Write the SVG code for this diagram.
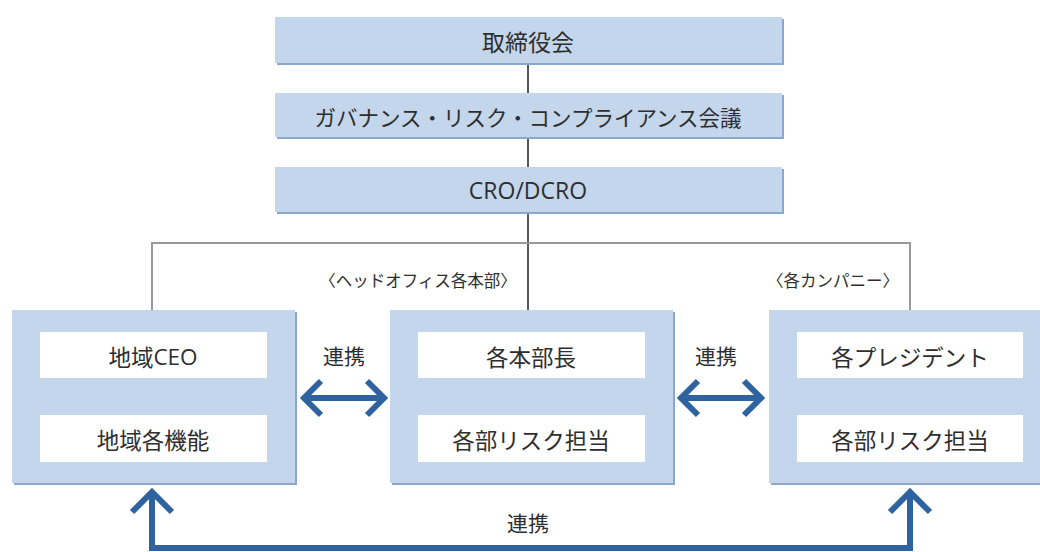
<svg xmlns="http://www.w3.org/2000/svg" width="1040" height="552" viewBox="0 0 1040 552">
<defs>
<style>
text{font-family:"Noto Sans CJK JP","Noto Sans",sans-serif;fill:#2e2e2e;text-anchor:middle;dominant-baseline:central;font-weight:400}
.lat{font-family:"Open Sans","Noto Sans",sans-serif}
.top{fill:#c4d6eb}
.sh{fill:#8aa8cc}
.big{fill:#c4d6eb}
.in{fill:#ffffff}
.t1{font-size:23px}
.t3{font-size:21.5px}
.t2{font-size:22.5px}
.sm{font-size:16.5px}
.lk{font-size:21px}
.blk{stroke:#222;stroke-width:1.5;fill:none}
.gry{stroke:#999;stroke-width:2;fill:none}
.arr{stroke:#2f63a0;stroke-width:6;fill:none;stroke-linejoin:miter}
</style>
</defs>
<rect width="1040" height="552" fill="#ffffff"/>
<g id="connectors">
<line class="blk" x1="528" y1="63" x2="528" y2="93"/>
<line class="blk" x1="528" y1="137" x2="528" y2="167"/>
<line class="blk" x1="528" y1="212" x2="528" y2="310"/>
<polyline class="gry" points="152,310 152,243 910,243 910,310"/>
<g class="arr">
<line x1="304" y1="398" x2="384" y2="398"/>
<polyline points="321,381 304,398 321,415"/>
<polyline points="367,381 384,398 367,415"/>
<line x1="681" y1="398" x2="761" y2="398"/>
<polyline points="698,381 681,398 698,415"/>
<polyline points="744,381 761,398 744,415"/>
<line x1="153" y1="379" x2="153" y2="416" stroke-width="4.5"/>
<polyline points="142,390 153,379 164,390" stroke-width="4.5"/>
<polyline points="142,405 153,416 164,405" stroke-width="4.5"/>
<polyline points="152,492 152,548 910,548 910,492"/>
</g>
<text class="lk" x="344" y="355">連携</text>
<text class="lk" x="716" y="355">連携</text>
<text class="lk" x="528" y="522">連携</text>
<text class="sm" x="418" y="280">〈ヘッドオフィス各本部〉</text>
<text class="sm" x="833" y="280">〈各カンパニー〉</text>
</g>
<g id="n-board">
<rect class="sh" x="277" y="19" width="507" height="46"/>
<rect class="top" x="275" y="17" width="507" height="46"/>
<text class="t1" x="528" y="41">取締役会</text>
</g>
<g id="n-grc">
<rect class="sh" x="277" y="95" width="507" height="44"/>
<rect class="top" x="275" y="93" width="507" height="44"/>
<text class="t3" x="528" y="116">ガバナンス・リスク・コンプライアンス会議</text>
</g>
<g id="n-cro">
<rect class="sh" x="277" y="169" width="507" height="45"/>
<rect class="top" x="275" y="167" width="507" height="45"/>
<text class="t1 lat" x="528" y="190">CRO/DCRO</text>
</g>
<g id="n-region">
<rect class="sh" x="14" y="312" width="283" height="173"/>
<rect class="big" x="12" y="310" width="283" height="173"/>
<rect class="in" x="40" y="332" width="227" height="46"/>
<rect class="in" x="40" y="415" width="227" height="47"/>
<text class="t2" x="153" y="356">地域<tspan class="lat">CEO</tspan></text>
<text class="t2" x="153" y="439">地域各機能</text>
</g>
<g id="n-hq">
<rect class="sh" x="392" y="312" width="283" height="173"/>
<rect class="big" x="390" y="310" width="283" height="173"/>
<rect class="in" x="418" y="332" width="227" height="46"/>
<rect class="in" x="418" y="415" width="227" height="47"/>
<text class="t2" x="531" y="356">各本部長</text>
<text class="t2" x="531" y="439">各部リスク担当</text>
</g>
<g id="n-company">
<rect class="sh" x="771" y="312" width="283" height="173"/>
<rect class="big" x="769" y="310" width="283" height="173"/>
<rect class="in" x="797" y="332" width="226" height="46"/>
<rect class="in" x="797" y="415" width="226" height="47"/>
<text class="t2" x="910" y="356">各プレジデント</text>
<text class="t2" x="910" y="439">各部リスク担当</text>
</g>
<g id="arrowheads-front" class="arr">
<polyline points="132,512 152,492 172,512"/>
<polyline points="890,512 910,492 930,512"/>
</g>
</svg>
